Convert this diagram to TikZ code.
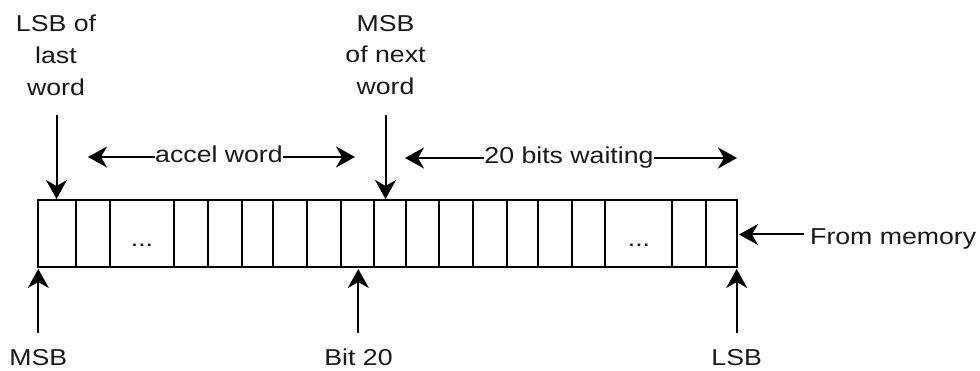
\documentclass[tikz,border=0pt]{standalone}
\usepackage{fontspec}
\setmainfont[FakeStretch=1.16]{Liberation Sans}
\usetikzlibrary{arrows.meta}
\begin{document}
\begin{tikzpicture}[x=1pt,y=-1pt,
  reg/.style={line width=2pt},
  tipA/.tip={Stealth[length=19pt,width=21pt,inset=6pt]},
  arr/.style={line width=2pt,-tipA},
  darr/.style={line width=2pt,tipA-tipA},
  lbl/.style={font=\fontsize{23}{31.7}\selectfont, inner sep=0pt, align=center, text=black!90},
  midlbl/.style={lbl, fill=white, inner xsep=0.5pt, inner ysep=2pt}]
\useasboundingbox (0,0) rectangle (980,371);

% register
\draw[reg] (38,200) rectangle (737,267);
\foreach \x in {76,110,174,208,242,273,307,341,374,406,439,473,507,538,572,605,672,706}
  \draw[reg] (\x,200) -- (\x,267);
\node[lbl] (dotsA) at (142,245) {...};
\node[lbl] (dotsB) at (639,245) {...};

% top labels
\node[lbl, anchor=north] (lsblast) at (56,15) {LSB of\\last\\word};
\node[lbl, anchor=north] (msbnext) at (385.5,15) {MSB\\of next\\word};
\coordinate (lsblastT) at (56.5,115);
\coordinate (lsblastH) at (56.5,199);
\coordinate (msbnextT) at (385.5,115);
\coordinate (msbnextH) at (385.5,199);
\draw[arr] (lsblastT) -- (lsblastH);
\draw[arr] (msbnextT) -- (msbnextH);

% span arrows
\coordinate (accL) at (88,157);
\coordinate (accR) at (355,157);
\draw[darr] (accL) -- (accR);
\node[midlbl, anchor=base] (accel) at (219,162.5) {accel word};

\coordinate (waitL) at (405,158);
\coordinate (waitR) at (737,158);
\draw[darr] (waitL) -- (waitR);
\node[midlbl, anchor=base] (wait) at (569,163.5) {20 bits waiting};

% from memory
\node[lbl, anchor=base west] (mem) at (810,245) {From memory};
\coordinate (memT) at (804,234.5);
\coordinate (memH) at (739,234.5);
\draw[arr] (memT) -- (memH);

% bottom labels
\node[lbl, anchor=base] (msb) at (38.3,365) {MSB};
\node[lbl, anchor=base] (bit) at (358.5,365) {Bit 20};
\node[lbl, anchor=base] (lsb) at (736.7,365) {LSB};
\coordinate (msbT) at (38.3,333);
\coordinate (msbH) at (38.3,269);
\coordinate (bitT) at (358.3,333);
\coordinate (bitH) at (358.3,269);
\coordinate (lsbT) at (736.7,333);
\coordinate (lsbH) at (736.7,269);
\draw[arr] (msbT) -- (msbH);
\draw[arr] (bitT) -- (bitH);
\draw[arr] (lsbT) -- (lsbH);
\end{tikzpicture}
\end{document}
